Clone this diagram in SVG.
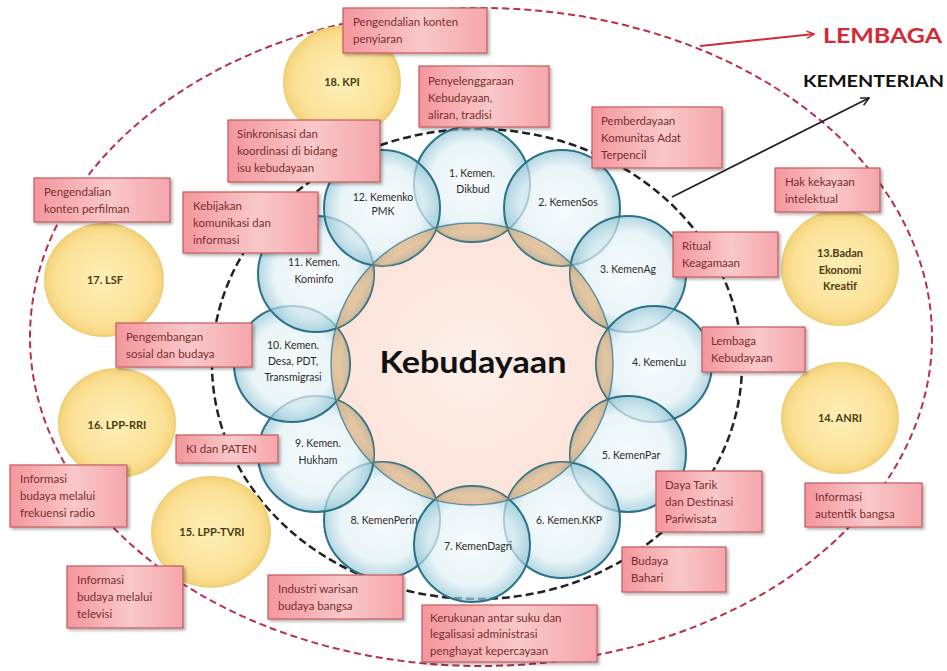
<svg xmlns="http://www.w3.org/2000/svg" width="947" height="671" viewBox="0 0 947 671">
<defs>
<style>
.bx{fill:url(#pink);stroke:#c45a5a;stroke-width:1.2;filter:url(#sh)}
.bt{font-family:Lato,"Liberation Sans",sans-serif;font-size:11.5px;fill:#7a2e2e}
.ring{fill:url(#blue);fill-opacity:0.7;stroke:#2b7189;stroke-width:2}
.rl{font-family:Lato,"Liberation Sans",sans-serif;font-size:10.5px;fill:#2a2a2a;text-anchor:middle}
.yc{fill:url(#yel);stroke:#ecd07a;stroke-width:2}
.yl{font-family:Lato,"Liberation Sans",sans-serif;font-size:11px;font-weight:bold;fill:#4d3b14;text-anchor:middle}
</style>
<linearGradient id="pink" x1="0" y1="0" x2="1" y2="0">
<stop offset="0" stop-color="#f4969d"/><stop offset="0.55" stop-color="#f9c8ca"/><stop offset="1" stop-color="#f5a6ab"/>
</linearGradient>
<radialGradient id="blue" cx="0.5" cy="0.5" r="0.5">
<stop offset="0" stop-color="#f5fafc"/><stop offset="0.72" stop-color="#e0f0f5"/><stop offset="1" stop-color="#94c6d5"/>
</radialGradient>
<radialGradient id="yel" cx="0.5" cy="0.5" r="0.5">
<stop offset="0" stop-color="#fdefb6"/><stop offset="0.8" stop-color="#fbe196"/><stop offset="1" stop-color="#f5d37a"/>
</radialGradient>
<radialGradient id="core" cx="0.5" cy="0.5" r="0.5">
<stop offset="0" stop-color="#fdf0ea"/><stop offset="1" stop-color="#fbe3d9"/>
</radialGradient>
<radialGradient id="band" cx="0.5" cy="0.5" r="0.5">
<stop offset="0" stop-color="#e8a060" stop-opacity="0"/>
<stop offset="0.855" stop-color="#e8a060" stop-opacity="0"/>
<stop offset="0.875" stop-color="#e39a58" stop-opacity="0.4"/>
<stop offset="0.94" stop-color="#f2b676" stop-opacity="0.6"/>
<stop offset="1" stop-color="#d8904c" stop-opacity="0.45"/>
</radialGradient>
<clipPath id="ringclip">
<circle cx="472" cy="184" r="58"/><circle cx="562" cy="208" r="58"/><circle cx="628" cy="274" r="58"/>
<circle cx="654" cy="364" r="58"/><circle cx="628" cy="454" r="58"/><circle cx="562" cy="520" r="58"/>
<circle cx="472" cy="544" r="58"/><circle cx="382" cy="520" r="58"/><circle cx="316" cy="454" r="58"/>
<circle cx="292" cy="364" r="58"/><circle cx="316" cy="274" r="58"/><circle cx="382" cy="208" r="58"/>
</clipPath>
<filter id="sh" x="-10%" y="-10%" width="125%" height="130%">
<feDropShadow dx="2" dy="2" stdDeviation="1.5" flood-color="#000" flood-opacity="0.3"/>
</filter>
<marker id="ar" viewBox="0 0 10 10" refX="9" refY="5" markerWidth="9" markerHeight="9" orient="auto" markerUnits="userSpaceOnUse">
<path d="M1,1 L9,5 L1,9" fill="none" stroke="#d42a35" stroke-width="1.6"/>
</marker>
<marker id="ab" viewBox="0 0 10 10" refX="9" refY="5" markerWidth="10" markerHeight="10" orient="auto" markerUnits="userSpaceOnUse">
<path d="M1,1 L9,5 L1,9" fill="none" stroke="#222" stroke-width="1.6"/>
</marker>
</defs>
<rect width="947" height="671" fill="#fff"/>

<g id="boundaries">
<ellipse cx="481" cy="337" rx="451" ry="329" fill="none" stroke="#b8304a" stroke-width="2" stroke-dasharray="7 4"/>
<ellipse cx="477" cy="364" rx="265" ry="235" fill="none" stroke="#222" stroke-width="2.5" stroke-dasharray="8 4"/>
</g>

<g id="connectors">
<line x1="700" y1="46" x2="814" y2="34" stroke="#d42a35" stroke-width="1.8" marker-end="url(#ar)"/>
<line x1="672" y1="197" x2="869" y2="98" stroke="#222" stroke-width="1.8" marker-end="url(#ab)"/>
</g>

<g id="legend">
<text x="823" y="43" font-family="Lato,'Liberation Sans',sans-serif" font-size="20" font-weight="bold" fill="#d42a35" textLength="119" lengthAdjust="spacingAndGlyphs">LEMBAGA</text>
<text x="803" y="87" font-family="Lato,'Liberation Sans',sans-serif" font-size="17" font-weight="bold" fill="#111" textLength="141" lengthAdjust="spacingAndGlyphs">KEMENTERIAN</text>
</g>

<g id="lembaga">
<g id="kpi"><ellipse class="yc" cx="342" cy="82" rx="58" ry="55"/><text class="yl" x="342" y="86">18. KPI</text></g>
<g id="lsf"><ellipse class="yc" cx="104" cy="280" rx="59" ry="56"/><text class="yl" x="105" y="284">17. LSF</text></g>
<g id="rri"><ellipse class="yc" cx="117" cy="423" rx="58" ry="54"/><text class="yl" x="117" y="429">16. LPP-RRI</text></g>
<g id="tvri"><ellipse class="yc" cx="211" cy="532" rx="59" ry="55"/><text class="yl" x="212" y="536">15. LPP-TVRI</text></g>
<g id="bekraf"><ellipse class="yc" cx="840" cy="268" rx="58" ry="57"/><text class="yl" x="840" y="257">13.Badan</text><text class="yl" x="840" y="274">Ekonomi</text><text class="yl" x="840" y="290">Kreatif</text></g>
<g id="anri"><ellipse class="yc" cx="840" cy="418" rx="58" ry="55"/><text class="yl" x="840" y="422">14. ANRI</text></g>
</g>

<g id="core-node">
<circle cx="472" cy="364" r="141" fill="url(#core)"/>
</g>

<g id="kementerian">
<g id="k1"><circle class="ring" cx="472" cy="184" r="58"/><text class="rl" x="472" y="177">1. Kemen.</text><text class="rl" x="473" y="193">Dikbud</text></g>
<g id="k2"><circle class="ring" cx="562" cy="208" r="58"/><text class="rl" x="568" y="206">2. KemenSos</text></g>
<g id="k3"><circle class="ring" cx="628" cy="274" r="58"/><text class="rl" x="628" y="273">3. KemenAg</text></g>
<g id="k4"><circle class="ring" cx="654" cy="364" r="58"/><text class="rl" x="659" y="366">4. KemenLu</text></g>
<g id="k5"><circle class="ring" cx="628" cy="454" r="58"/><text class="rl" x="631" y="459">5. KemenPar</text></g>
<g id="k6"><circle class="ring" cx="562" cy="520" r="58"/><text class="rl" x="569" y="524">6. Kemen.KKP</text></g>
<g id="k8"><circle class="ring" cx="382" cy="520" r="58"/><text class="rl" x="384" y="524">8. KemenPerin</text></g>
<g id="k7"><circle class="ring" cx="472" cy="544" r="58"/><text class="rl" x="478" y="550">7. KemenDagri</text></g>
<g id="k9"><circle class="ring" cx="316" cy="454" r="58"/><text class="rl" x="318" y="447">9. Kemen.</text><text class="rl" x="318" y="464">Hukham</text></g>
<g id="k10"><circle class="ring" cx="292" cy="364" r="58"/><text class="rl" x="293" y="349">10. Kemen.</text><text class="rl" x="293" y="365">Desa, PDT,</text><text class="rl" x="293" y="381">Transmigrasi</text></g>
<g id="k11"><circle class="ring" cx="316" cy="274" r="58"/><text class="rl" x="314" y="266">11. Kemen.</text><text class="rl" x="314" y="283">Kominfo</text></g>
<g id="k12"><circle class="ring" cx="382" cy="208" r="58"/><text class="rl" x="383" y="201">12. Kemenko</text><text class="rl" x="383" y="215">PMK</text></g>
</g>

<g id="core-band" clip-path="url(#ringclip)">
<circle cx="472" cy="364" r="141" fill="url(#band)" stroke="#2b7189" stroke-width="1.5" stroke-opacity="0.7"/>
</g>

<g id="center-label">
<text x="473" y="373" text-anchor="middle" font-family="Lato,'Liberation Sans',sans-serif" font-size="31" font-weight="bold" fill="#111" textLength="187" lengthAdjust="spacingAndGlyphs">Kebudayaan</text>
</g>

<g id="notes">
<g id="n1"><rect class="bx" x="343" y="8" width="144" height="45"/><text class="bt" x="353" y="26">Pengendalian konten</text><text class="bt" x="353" y="43">penyiaran</text></g>
<g id="n2"><rect class="bx" x="419" y="66" width="130" height="61"/><text class="bt" x="428" y="85">Penyelenggaraan</text><text class="bt" x="428" y="102">Kebudayaan,</text><text class="bt" x="428" y="119">aliran, tradisi</text></g>
<g id="n3"><rect class="bx" x="228" y="120" width="152" height="62"/><text class="bt" x="237" y="138">Sinkronisasi dan</text><text class="bt" x="237" y="155">koordinasi  di bidang</text><text class="bt" x="237" y="172">isu kebudayaan</text></g>
<g id="n4"><rect class="bx" x="592" y="107" width="130" height="61"/><text class="bt" x="601" y="125">Pemberdayaan</text><text class="bt" x="601" y="142">Komunitas  Adat</text><text class="bt" x="601" y="159">Terpencil</text></g>
<g id="n5"><rect class="bx" x="34" y="178" width="136" height="44"/><text class="bt" x="44" y="196">Pengendalian</text><text class="bt" x="44" y="213">konten perfilman</text></g>
<g id="n6"><rect class="bx" x="183" y="192" width="135" height="61"/><text class="bt" x="193" y="210">Kebijakan</text><text class="bt" x="193" y="227">komunikasi dan</text><text class="bt" x="193" y="244">informasi</text></g>
<g id="n7"><rect class="bx" x="775" y="168" width="105" height="44"/><text class="bt" x="785" y="186">Hak kekayaan</text><text class="bt" x="785" y="203">intelektual</text></g>
<g id="n8"><rect class="bx" x="673" y="232" width="105" height="45"/><text class="bt" x="682" y="250">Ritual</text><text class="bt" x="682" y="267">Keagamaan</text></g>
<g id="n9"><rect class="bx" x="702" y="327" width="103" height="45"/><text class="bt" x="711" y="345">Lembaga</text><text class="bt" x="711" y="362">Kebudayaan</text></g>
<g id="n10"><rect class="bx" x="116" y="323" width="136" height="44"/><text class="bt" x="126" y="341">Pengembangan</text><text class="bt" x="126" y="358">sosial dan budaya</text></g>
<g id="n11"><rect class="bx" x="176" y="435" width="102" height="28"/><text class="bt" x="186" y="453">KI dan PATEN</text></g>
<g id="n12"><rect class="bx" x="10" y="465" width="117" height="62"/><text class="bt" x="20" y="483">Informasi</text><text class="bt" x="20" y="500">budaya melalui</text><text class="bt" x="20" y="517">frekuensi radio</text></g>
<g id="n13"><rect class="bx" x="67" y="566" width="116" height="62"/><text class="bt" x="77" y="584">Informasi</text><text class="bt" x="77" y="601">budaya melalui</text><text class="bt" x="77" y="618">televisi</text></g>
<g id="n14"><rect class="bx" x="268" y="575" width="135" height="44"/><text class="bt" x="278" y="593">Industri warisan</text><text class="bt" x="278" y="610">budaya bangsa</text></g>
<g id="n15"><rect class="bx" x="422" y="605" width="175" height="57"/><text class="bt" x="430" y="622">Kerukunan antar suku dan</text><text class="bt" x="430" y="638">legalisasi administrasi</text><text class="bt" x="430" y="655">penghayat kepercayaan</text></g>
<g id="n16"><rect class="bx" x="656" y="471" width="106" height="61"/><text class="bt" x="665" y="489">Daya Tarik</text><text class="bt" x="665" y="506">dan Destinasi</text><text class="bt" x="665" y="523">Pariwisata</text></g>
<g id="n17"><rect class="bx" x="622" y="547" width="104" height="45"/><text class="bt" x="631" y="565">Budaya</text><text class="bt" x="631" y="582">Bahari</text></g>
<g id="n18"><rect class="bx" x="805" y="483" width="117" height="44"/><text class="bt" x="815" y="501">Informasi</text><text class="bt" x="815" y="518">autentik bangsa</text></g>
</g>
</svg>
